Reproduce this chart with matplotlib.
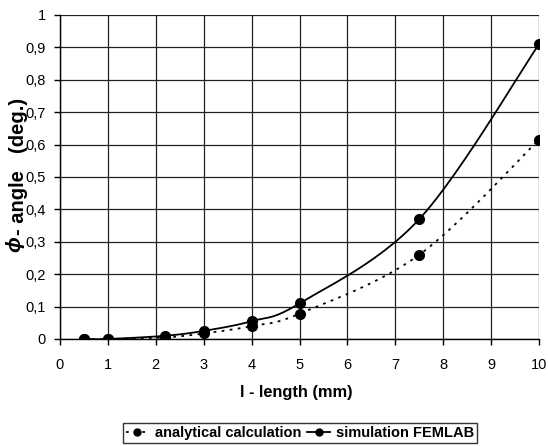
import numpy as np
import matplotlib
matplotlib.use("Agg")
import matplotlib.pyplot as plt
from matplotlib.ticker import FuncFormatter
from matplotlib.lines import Line2D

plt.rcParams['font.family'] = ['Liberation Sans', 'DejaVu Sans']

length = [0.5, 1, 2.2, 3, 4, 5, 7.5, 10]
analytical = [0.0, 0.0, 0.005, 0.017, 0.04, 0.078, 0.26, 0.615]
simulation = [0.0, 0.0, 0.01, 0.025, 0.055, 0.11, 0.37, 0.91]
labels = ["analytical calculation", "simulation FEMLAB"]

PW, PH = 479.0, 324.0  # plot size in pixels, used for smoothing in screen space


def smooth(x, y, n=30):
    x = np.asarray(x, float); y = np.asarray(y, float)
    P = np.column_stack([x / 10.0 * PW, y * PH])
    out = []
    for i in range(len(P) - 1):
        p0 = P[i - 1] if i > 0 else P[i]
        p1 = P[i]; p2 = P[i + 1]
        p3 = P[i + 2] if i + 2 < len(P) else P[i + 1]
        c1 = p1 + (p2 - p0) / 6.0
        c2 = p2 - (p3 - p1) / 6.0
        t = np.linspace(0, 1, n)[:, None]
        seg = (1 - t) ** 3 * p1 + 3 * (1 - t) ** 2 * t * c1 + 3 * (1 - t) * t ** 2 * c2 + t ** 3 * p2
        out.append(seg if i == 0 else seg[1:])
    S = np.vstack(out)
    return S[:, 0] / PW * 10.0, S[:, 1] / PH


fig = plt.figure(figsize=(5.48, 4.46), dpi=100)
ax = fig.add_axes([60 / 548, 1 - 339 / 446, 479 / 548, 324 / 446])

xs, ys = smooth(length, analytical)
ax.plot(xs, ys, color='black', lw=1.3, ls=(0, (1.5, 3)), zorder=3)
ax.plot(length, analytical, 'o', color='black', ms=7, zorder=4)
xs, ys = smooth(length, simulation)
ax.plot(xs, ys, color='black', lw=1.3, zorder=3)
ax.plot(length, simulation, 'o', color='black', ms=7, zorder=4)

ax.set_xlim(0, 10)
ax.set_ylim(0, 1)
ax.set_xticks(range(0, 11))
ax.set_yticks(np.arange(0, 1.01, 0.1))
ax.yaxis.set_major_formatter(FuncFormatter(lambda v, p: ('%g' % round(v, 1)).replace('.', ',')))
ax.grid(True, color='#222222', lw=0.9)
ax.set_axisbelow(True)
for s in ['top', 'right']:
    ax.spines[s].set_visible(False)
for s in ['left', 'bottom']:
    ax.spines[s].set_color('black')
    ax.spines[s].set_linewidth(1.0)
ax.tick_params(axis='both', labelsize=10.5, length=4, width=1, color='black', pad=6)
ax.tick_params(axis='x', pad=10)

narrow = ['Liberation Sans Narrow', 'Liberation Sans', 'DejaVu Sans']
fig.text(296 / 548, 1 - 393 / 446, 'l - length (mm)', fontsize=11.8, fontweight='bold',
         ha='center', va='center')
fig.text(15 / 548, 1 - 244 / 446, 'ϕ', rotation=90, fontsize=15, fontweight='bold',
         style='italic', ha='center', va='center')
fig.text(18 / 548, 1 - 235 / 446, '- angle', rotation=90, fontsize=14.5, family=narrow,
         fontweight='bold', ha='center', va='bottom')
fig.text(18 / 548, 1 - 152 / 446, '(deg.)', rotation=90, fontsize=14.5, family=narrow,
         fontweight='bold', ha='center', va='bottom')

h1 = Line2D([], [], color='black', lw=1.3, ls=(0, (1.5, 3)), marker='o', ms=5)
h2 = Line2D([], [], color='black', lw=1.3, marker='o', ms=5)
leg = fig.legend([h1, h2], labels, loc='center', bbox_to_anchor=(300 / 548, 1 - 433 / 446),
                 ncol=2, frameon=True, fancybox=False, edgecolor='black',
                 prop={'weight': 'bold', 'size': 10.5}, handlelength=1.6, handletextpad=0.4,
                 columnspacing=0.4, borderpad=0.2, borderaxespad=0)
leg.get_frame().set_linewidth(1.0)

fig.savefig('out.png', dpi=100)
